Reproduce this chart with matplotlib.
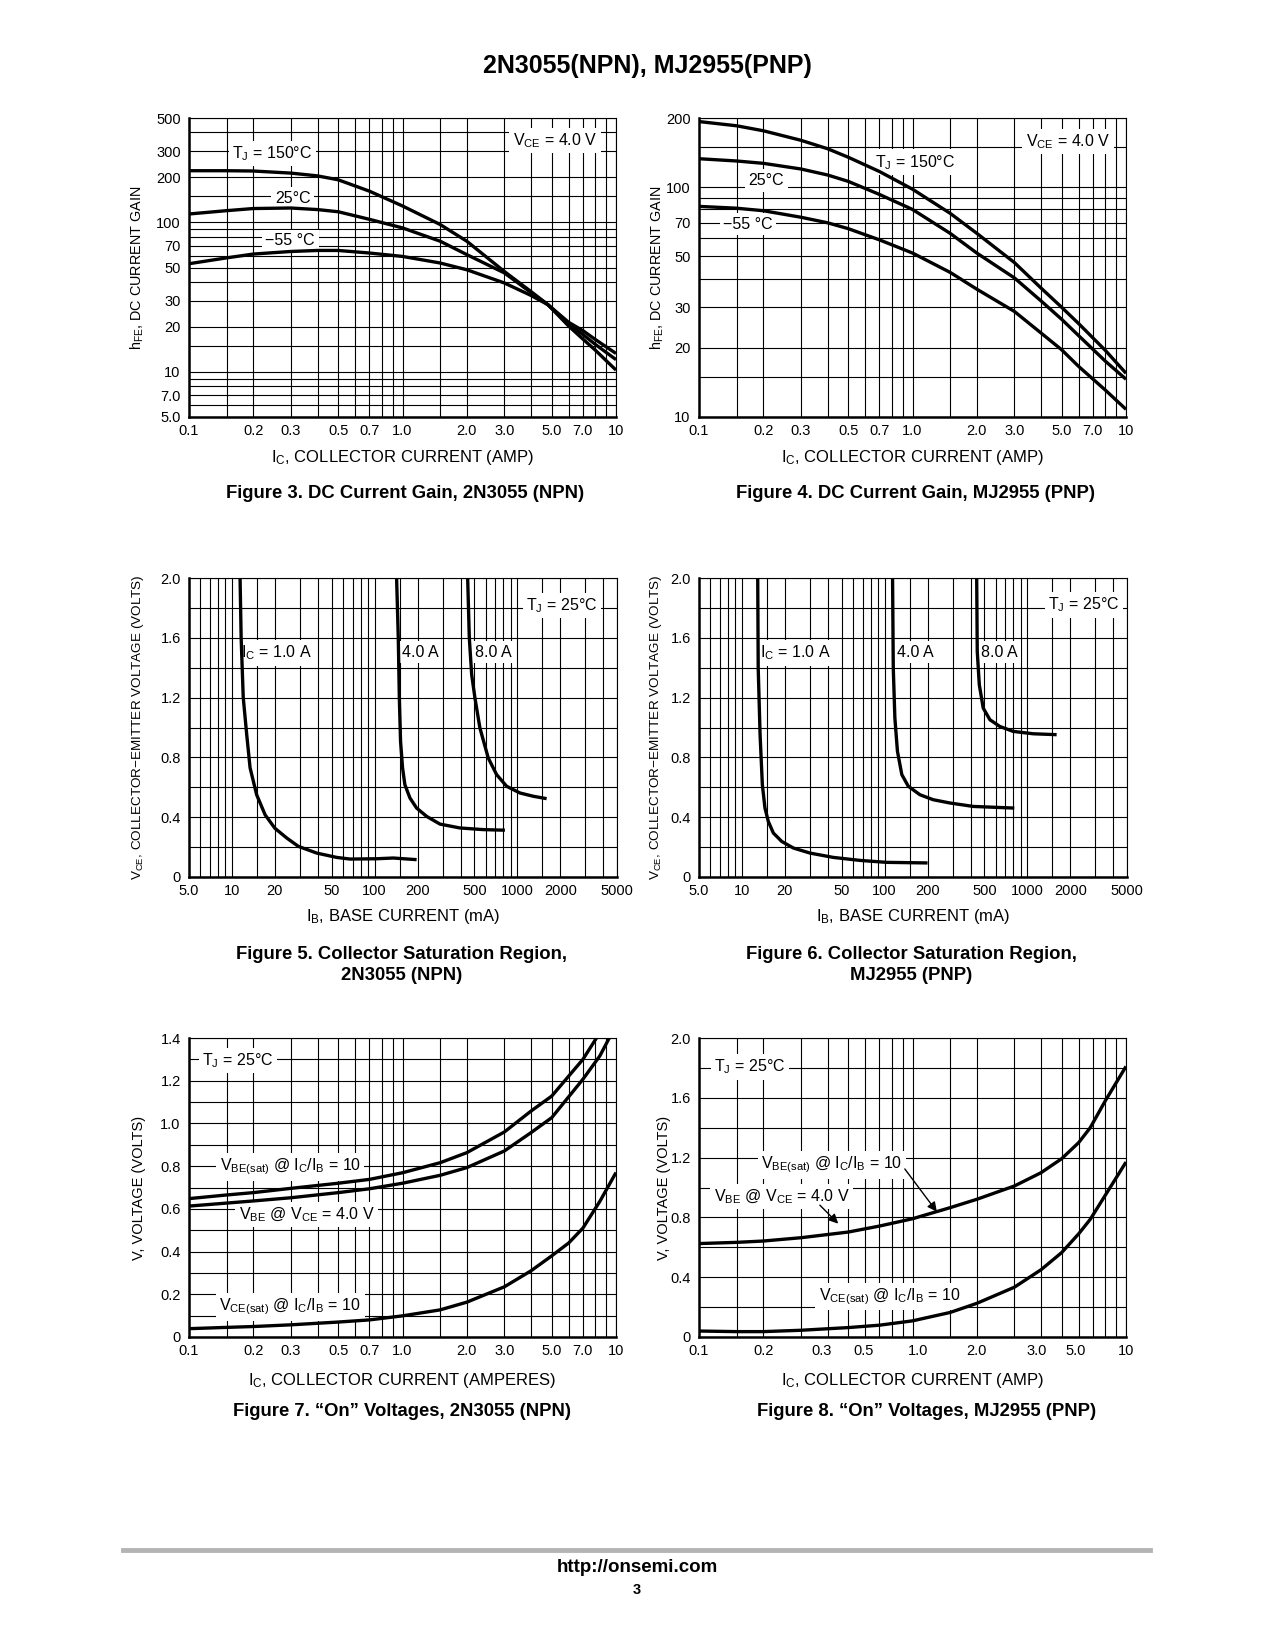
import matplotlib
matplotlib.use('Agg')
import matplotlib.pyplot as plt
from matplotlib.ticker import FixedLocator, FixedFormatter, NullFormatter
from matplotlib.lines import Line2D

plt.rcParams['font.family'] = ['Liberation Sans Narrow', 'Liberation Sans', 'DejaVu Sans']

# ---- data ----
# Figure 3: DC current gain 2N3055
ic3 = [0.1, 0.15, 0.2, 0.3, 0.4, 0.5, 0.7, 1.0, 1.5, 2.0, 3.0, 4.0, 4.8, 6.0, 7.0, 8.0, 10]
hfe3_150 = [222, 222, 221, 214, 205, 193, 162, 129, 97, 75, 47, 34.5, 28.2, 20.3, 16.6, 14.0, 10.3]
hfe3_25 = [114, 120, 124, 125, 122, 118, 105, 92, 75, 61, 46, 34, 28.2, 21, 17.8, 15.3, 12.1]
hfe3_m55 = [53, 58, 61.5, 64, 65, 65, 62.5, 59.3, 53.6, 48.3, 39.4, 32.5, 28.2, 21.5, 18.9, 16.5, 13.3]

# Figure 4: DC current gain MJ2955
ic4 = [0.1, 0.15, 0.2, 0.3, 0.4, 0.5, 0.7, 1.0, 1.5, 2.0, 3.0, 4.0, 5.0, 6.0, 8.0, 10]
hfe4_150 = [193, 185, 176, 160, 147, 135, 117, 98, 77, 63, 47, 36.4, 30.0, 25.5, 19.5, 15.5]
hfe4_25 = [133, 130, 127, 120, 113, 106, 93, 80, 63, 51.7, 40.3, 32, 26.6, 22.6, 17.5, 14.6]
hfe4_m55 = [82.5, 81, 79, 74, 70, 66, 59, 51.7, 42.6, 36, 28.8, 23.2, 19.6, 16.6, 13.1, 10.8]

# Figure 5: collector saturation 2N3055 (IB mA, VCE V)
ib5_1a = [11.4, 11.6, 12.0, 12.7, 13.4, 14.9, 17.1, 20, 24.2, 29.2, 39.3, 54.2, 67.2, 103, 135, 197]
vce5_1a = [2.0, 1.6, 1.2, 0.95, 0.73, 0.55, 0.415, 0.326, 0.261, 0.205, 0.16, 0.131, 0.12, 0.122, 0.127, 0.116]
ib5_4a = [142.6, 146.5, 149, 152, 157, 163, 177, 197, 232, 287, 396, 577, 819]
vce5_4a = [2.0, 1.6, 1.2, 0.907, 0.73, 0.617, 0.528, 0.461, 0.405, 0.354, 0.328, 0.317, 0.313]
ib5_8a = [449, 461, 479, 505, 547, 626, 716, 842, 1044, 1295, 1606]
vce5_8a = [2.0, 1.6, 1.353, 1.197, 0.997, 0.796, 0.685, 0.607, 0.562, 0.54, 0.524]

# Figure 6: collector saturation MJ2955
ib6_1a = [12.9, 13.0, 13.4, 13.9, 14.5, 15.3, 16.6, 19, 22.9, 30, 43.7, 67.2, 103, 200]
vce6_1a = [2.0, 1.398, 0.952, 0.617, 0.461, 0.372, 0.294, 0.238, 0.194, 0.16, 0.131, 0.111, 0.098, 0.094]
ib6_4a = [113.7, 115, 118, 123, 132, 146.5, 177, 219, 287, 418, 811]
vce6_4a = [2.0, 1.398, 1.064, 0.841, 0.685, 0.607, 0.55, 0.517, 0.495, 0.472, 0.461]
ib6_8a = [442, 446, 461, 491, 547, 642, 796, 1101, 1606]
vce6_8a = [2.0, 1.509, 1.286, 1.13, 1.052, 1.007, 0.974, 0.958, 0.952]

# Figure 7: "On" voltages 2N3055
ic7_besat = [0.1, 0.15, 0.2, 0.3, 0.5, 0.7, 1.0, 1.5, 2.0, 3.0, 4.0, 5.0, 7.0, 8.1]
v7_besat = [0.648, 0.665, 0.676, 0.696, 0.72, 0.738, 0.769, 0.816, 0.863, 0.96, 1.058, 1.128, 1.30, 1.40]
ic7_be = [0.1, 0.15, 0.2, 0.3, 0.5, 0.7, 1.0, 1.5, 2.0, 3.0, 4.0, 5.0, 7.0, 8.4, 9.3]
v7_be = [0.613, 0.627, 0.637, 0.652, 0.676, 0.694, 0.72, 0.757, 0.793, 0.871, 0.957, 1.027, 1.207, 1.316, 1.40]
ic7_cesat = [0.1, 0.15, 0.2, 0.3, 0.5, 0.7, 1.0, 1.5, 2.0, 3.0, 4.0, 5.0, 6.0, 7.0, 8.4, 10]
v7_cesat = [0.039, 0.045, 0.049, 0.057, 0.07, 0.08, 0.099, 0.127, 0.163, 0.235, 0.31, 0.38, 0.44, 0.51, 0.635, 0.77]

# Figure 8: "On" voltages MJ2955
ic8_be = [0.1, 0.15, 0.2, 0.3, 0.5, 0.7, 1.0, 1.5, 2.0, 3.0, 4.0, 5.0, 6.0, 6.8, 8.0, 10]
v8_be = [0.625, 0.633, 0.642, 0.664, 0.702, 0.742, 0.791, 0.865, 0.921, 1.01, 1.099, 1.193, 1.30, 1.40, 1.58, 1.81]
ic8_cesat = [0.1, 0.15, 0.2, 0.3, 0.5, 0.7, 1.0, 1.5, 2.0, 3.0, 4.0, 5.0, 6.0, 6.8, 10]
v8_cesat = [0.04, 0.036, 0.036, 0.045, 0.063, 0.079, 0.108, 0.164, 0.225, 0.333, 0.45, 0.565, 0.69, 0.787, 1.17]

# grids and tick labels
amp_grid = [0.1, 0.15, 0.2, 0.3, 0.4, 0.5, 0.6, 0.7, 0.8, 0.9, 1, 1.5, 2, 3, 4, 5, 6, 7, 8, 9, 10]
amp_ticks = [0.1, 0.2, 0.3, 0.5, 0.7, 1.0, 2.0, 3.0, 5.0, 7.0, 10]
amp_labels = ['0.1', '0.2', '0.3', '0.5', '0.7', '1.0', '2.0', '3.0', '5.0', '7.0', '10']
amp8_ticks = [0.1, 0.2, 0.375, 0.59, 1.06, 2.0, 3.8, 5.8, 10]
amp8_labels = ['0.1', '0.2', '0.3', '0.5', '1.0', '2.0', '3.0', '5.0', '10']
hfe3_grid = [5, 6, 7, 8, 9, 10, 15, 20, 30, 40, 50, 60, 70, 80, 90, 100, 150, 200, 300, 400, 500]
hfe3_ticks = [5, 7, 10, 20, 30, 50, 70, 100, 200, 300, 500]
hfe3_labels = ['5.0', '7.0', '10', '20', '30', '50', '70', '100', '200', '300', '500']
hfe4_grid = [10, 15, 20, 30, 40, 50, 60, 70, 80, 90, 100, 150, 200]
hfe4_ticks = [10, 20, 30, 50, 70, 100, 200]
hfe4_labels = ['10', '20', '30', '50', '70', '100', '200']
ib_grid = [5, 6, 7, 8, 9, 10, 15, 20, 30, 40, 50, 60, 70, 80, 90, 100, 150, 200, 300, 400,
           500, 600, 700, 800, 900, 1000, 1500, 2000, 3000, 4000, 5000]
ib_ticks = [5, 10, 20, 50, 100, 200, 500, 1000, 2000, 5000]
ib_labels = ['5.0', '10', '20', '50', '100', '200', '500', '1000', '2000', '5000']
v20_grid = [0, 0.2, 0.4, 0.6, 0.8, 1.0, 1.2, 1.4, 1.6, 1.8, 2.0]
v20_ticks = [0, 0.4, 0.8, 1.2, 1.6, 2.0]
v20_labels = ['0', '0.4', '0.8', '1.2', '1.6', '2.0']
v14_grid = [0, 0.1, 0.2, 0.3, 0.4, 0.5, 0.6, 0.7, 0.8, 0.9, 1.0, 1.1, 1.2, 1.3, 1.4]
v14_ticks = [0, 0.2, 0.4, 0.6, 0.8, 1.0, 1.2, 1.4]
v14_labels = ['0', '0.2', '0.4', '0.6', '0.8', '1.0', '1.2', '1.4']

W, H = 1275, 1650
fig = plt.figure(figsize=(W / 100, H / 100), dpi=100)
fig.patch.set_facecolor('white')

REG = ['Liberation Sans', 'DejaVu Sans']
NAR = ['Liberation Sans Narrow', 'Liberation Sans', 'DejaVu Sans']
CURVE = dict(color='black', lw=2.4, zorder=5, solid_capstyle='butt')


def make_axes(l, t, r, b):
    return fig.add_axes([l / W, 1 - b / H, (r - l) / W, (b - t) / H])


def setup(ax, xlim, ylim, xgrid, ygrid, xt, xl, yt, yl, xlog=True, ylog=False):
    if xlog:
        ax.set_xscale('log')
    if ylog:
        ax.set_yscale('log')
    ax.set_xlim(*xlim)
    ax.set_ylim(*ylim)
    for axis, grid, t, lab in ((ax.xaxis, xgrid, xt, xl), (ax.yaxis, ygrid, yt, yl)):
        axis.remove_overlapping_locs = False
        axis.set_major_locator(FixedLocator(t))
        axis.set_major_formatter(FixedFormatter(lab))
        axis.set_minor_locator(FixedLocator(grid))
        axis.set_minor_formatter(NullFormatter())
    ax.grid(False, which='major')
    ax.grid(True, which='minor', color='black', lw=0.8)
    ax.tick_params(which='both', length=0)
    ax.tick_params(axis='x', pad=5, labelsize=10.5)
    ax.tick_params(axis='y', pad=6, labelsize=10.5)
    for lab in ax.get_xticklabels() + ax.get_yticklabels():
        lab.set_family(NAR)
    for s in ('left', 'bottom'):
        ax.spines[s].set_linewidth(1.8)
    for s in ('top', 'right'):
        ax.spines[s].set_linewidth(0.8)


def note(ax, x, y, s, size=11.5):
    ax.text(x, y, s, transform=ax.transAxes, ha='center', va='center', fontsize=size,
            family=NAR, zorder=4, bbox=dict(fc='white', ec='none', pad=2.5))


def labels(ax, xlabel, ylabel, xl_y, yl_x, ysize):
    ax.set_xlabel(xlabel, fontsize=12, family=REG)
    ax.xaxis.set_label_coords(0.5, xl_y)
    ax.set_ylabel(ylabel, fontsize=ysize, family=NAR)
    ax.yaxis.set_label_coords(yl_x, 0.5)


def ftext(x, y, s, **kw):
    fig.text(x / W, 1 - y / H, s, ha='center', va='center', **kw)


CAP = dict(fontsize=13.3, fontweight='bold', family=REG)

ftext(647, 66, '2N3055(NPN), MJ2955(PNP)', fontsize=18, fontweight='bold', family=REG)

# ---- Figure 3 ----
ax3 = make_axes(189, 118, 616, 417)
setup(ax3, (0.1, 10), (5, 500), amp_grid, hfe3_grid, amp_ticks, amp_labels,
      hfe3_ticks, hfe3_labels, ylog=True)
ax3.plot(ic3, hfe3_150, **CURVE)
ax3.plot(ic3, hfe3_25, **CURVE)
ax3.plot(ic3, hfe3_m55, **CURVE)
note(ax3, 0.195, 0.881, r'$\mathregular{T_J}$ = 150°C')
note(ax3, 0.243, 0.732, '25°C')
note(ax3, 0.237, 0.590, '−55 °C')
note(ax3, 0.857, 0.925, r'$\mathregular{V_{CE}}$ = 4.0 V')
labels(ax3, r'$\mathregular{I_C}$, COLLECTOR CURRENT (AMP)', r'$\mathregular{h_{FE}}$, DC CURRENT GAIN',
       -0.103, -0.101, 10.4)
ftext(405, 494, 'Figure 3. DC Current Gain, 2N3055 (NPN)', **CAP)

# ---- Figure 4 ----
ax4 = make_axes(699, 118, 1126, 417)
setup(ax4, (0.1, 10), (10, 200), amp_grid, hfe4_grid, amp_ticks, amp_labels,
      hfe4_ticks, hfe4_labels, ylog=True)
ax4.plot(ic4, hfe4_150, **CURVE)
ax4.plot(ic4, hfe4_25, **CURVE)
ax4.plot(ic4, hfe4_m55, **CURVE)
note(ax4, 0.506, 0.852, r'$\mathregular{T_J}$ = 150°C')
note(ax4, 0.158, 0.791, '25°C')
note(ax4, 0.115, 0.645, '−55 °C')
note(ax4, 0.864, 0.921, r'$\mathregular{V_{CE}}$ = 4.0 V')
labels(ax4, r'$\mathregular{I_C}$, COLLECTOR CURRENT (AMP)', r'$\mathregular{h_{FE}}$, DC CURRENT GAIN',
       -0.103, -0.078, 10.4)
ftext(915, 494, 'Figure 4. DC Current Gain, MJ2955 (PNP)', **CAP)

# ---- Figure 5 ----
ax5 = make_axes(189, 578, 617, 877)
setup(ax5, (5, 5000), (0, 2.0), ib_grid, v20_grid, ib_ticks, ib_labels, v20_ticks, v20_labels)
ax5.plot(ib5_1a, vce5_1a, **CURVE)
ax5.plot(ib5_4a, vce5_4a, **CURVE)
ax5.plot(ib5_8a, vce5_8a, **CURVE)
note(ax5, 0.205, 0.749, r'$\mathregular{I_C}$ = 1.0 A')
note(ax5, 0.541, 0.752, '4.0 A')
note(ax5, 0.711, 0.752, '8.0 A')
note(ax5, 0.871, 0.908, r'$\mathregular{T_J}$ = 25°C')
labels(ax5, r'$\mathregular{I_B}$, BASE CURRENT (mA)',
       r'$\mathregular{V_{CE}}$, COLLECTOR−EMITTER VOLTAGE (VOLTS)', -0.100, -0.101, 9.7)
ftext(402, 955, 'Figure 5. Collector Saturation Region,', **CAP)
ftext(402, 976, '2N3055 (NPN)', **CAP)

# ---- Figure 6 ----
ax6 = make_axes(699, 578, 1127, 877)
setup(ax6, (5, 5000), (0, 2.0), ib_grid, v20_grid, ib_ticks, ib_labels, v20_ticks, v20_labels)
ax6.plot(ib6_1a, vce6_1a, **CURVE)
ax6.plot(ib6_4a, vce6_4a, **CURVE)
ax6.plot(ib6_8a, vce6_8a, **CURVE)
note(ax6, 0.224, 0.749, r'$\mathregular{I_C}$ = 1.0 A')
note(ax6, 0.505, 0.752, '4.0 A')
note(ax6, 0.701, 0.752, '8.0 A')
note(ax6, 0.899, 0.910, r'$\mathregular{T_J}$ = 25°C')
labels(ax6, r'$\mathregular{I_B}$, BASE CURRENT (mA)',
       r'$\mathregular{V_{CE}}$, COLLECTOR−EMITTER VOLTAGE (VOLTS)', -0.100, -0.081, 9.7)
ftext(911, 955, 'Figure 6. Collector Saturation Region,', **CAP)
ftext(911, 976, 'MJ2955 (PNP)', **CAP)

# ---- Figure 7 ----
ax7 = make_axes(189, 1038, 616, 1337)
setup(ax7, (0.1, 10), (0, 1.4), amp_grid, v14_grid, amp_ticks, amp_labels, v14_ticks, v14_labels)
ax7.plot(ic7_besat, v7_besat, **CURVE)
ax7.plot(ic7_be, v7_be, **CURVE)
ax7.plot(ic7_cesat, v7_cesat, **CURVE)
note(ax7, 0.115, 0.925, r'$\mathregular{T_J}$ = 25°C')
note(ax7, 0.237, 0.569, r'$\mathregular{V_{BE(sat)}}$ @ $\mathregular{I_C/I_B}$ = 10')
note(ax7, 0.276, 0.410, r'$\mathregular{V_{BE}}$ @ $\mathregular{V_{CE}}$ = 4.0 V')
note(ax7, 0.237, 0.101, r'$\mathregular{V_{CE(sat)}}$ @ $\mathregular{I_C/I_B}$ = 10')
labels(ax7, r'$\mathregular{I_C}$, COLLECTOR CURRENT (AMPERES)', 'V, VOLTAGE (VOLTS)', -0.113, -0.101, 10.5)
ftext(402, 1411, 'Figure 7. “On” Voltages, 2N3055 (NPN)', **CAP)

# ---- Figure 8 ----
ax8 = make_axes(699, 1038, 1126, 1337)
setup(ax8, (0.1, 10), (0, 2.0), amp_grid, v20_grid, amp8_ticks, amp8_labels, v20_ticks, v20_labels)
ax8.plot(ic8_be, v8_be, **CURVE)
ax8.plot(ic8_cesat, v8_cesat, **CURVE)
note(ax8, 0.119, 0.903, r'$\mathregular{T_J}$ = 25°C')
note(ax8, 0.311, 0.575, r'$\mathregular{V_{BE(sat)}}$ @ $\mathregular{I_C/I_B}$ = 10')
note(ax8, 0.194, 0.469, r'$\mathregular{V_{BE}}$ @ $\mathregular{V_{CE}}$ = 4.0 V')
note(ax8, 0.447, 0.135, r'$\mathregular{V_{CE(sat)}}$ @ $\mathregular{I_C/I_B}$ = 10')
arrow = dict(arrowstyle='-|>', color='black', lw=1.0, mutation_scale=14, shrinkA=0, shrinkB=0)
ax8.annotate('', xy=(0.557, 0.419), xytext=(0.482, 0.562), xycoords='axes fraction', arrowprops=arrow, zorder=6)
ax8.annotate('', xy=(0.326, 0.379), xytext=(0.283, 0.441), xycoords='axes fraction', arrowprops=arrow, zorder=6)
labels(ax8, r'$\mathregular{I_C}$, COLLECTOR CURRENT (AMP)', 'V, VOLTAGE (VOLTS)', -0.113, -0.066, 10.5)
ftext(927, 1411, 'Figure 8. “On” Voltages, MJ2955 (PNP)', **CAP)

# footer
fig.add_artist(Line2D([123 / W, 1150 / W], [1 - 1550 / H, 1 - 1550 / H], color='#b4b4b4', lw=3.5))
ftext(637, 1568, 'http://onsemi.com', fontsize=13.5, fontweight='bold', family=REG)
ftext(637, 1590, '3', fontsize=10.5, fontweight='bold', family=REG)

fig.savefig('out.png', dpi=100)
